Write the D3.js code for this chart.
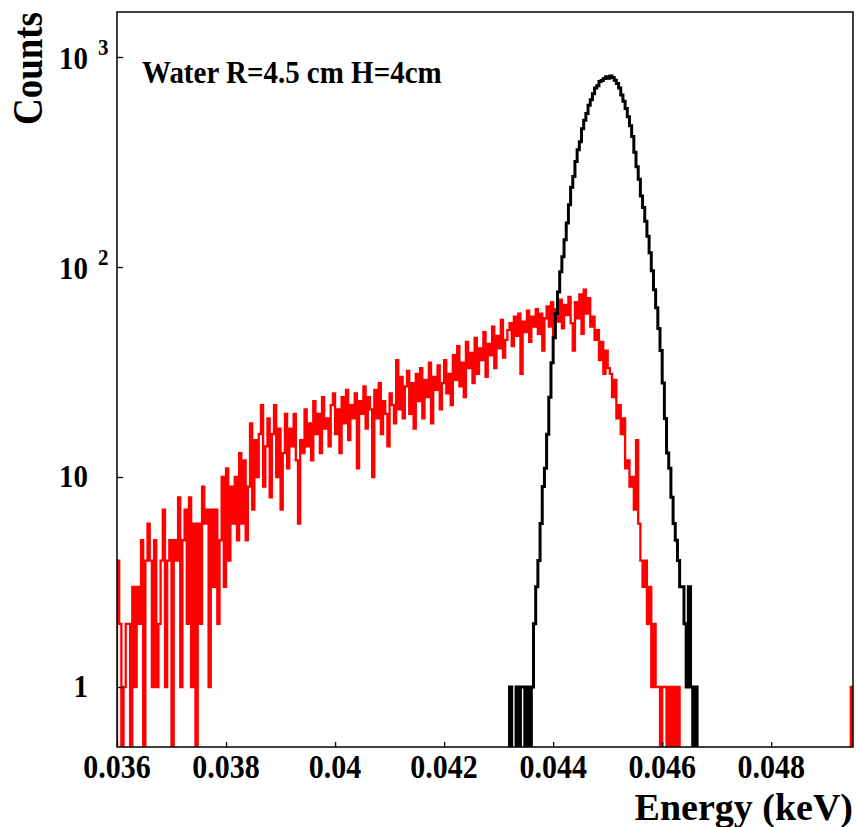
<!DOCTYPE html>
<html>
<head>
<meta charset="utf-8">
<script src="https://cdn.jsdelivr.net/npm/d3@7/dist/d3.min.js"></script>
<style>
body { margin: 0; background: #fff; }
text { font-family: "Liberation Serif", "Times New Roman", serif; font-weight: bold; }
</style>
</head>
<body>
<svg width="856" height="827"></svg>
<script>
// histogram data (counts per bin, bin width in keV)
var binWidth = 0.00004
var redStart = 0.036
var redCounts = [
  4,2,0,1,2,2,0,3,1,3, 2,5,0,4,6,4,1,5,1,2, 4,7,1,4,5,0,5,4,8,1, 5,7,2,8,1,6,0,6,2,9,
  6,7,1,7,3,7,2,5,10,3, 11,4,9,6,10,5,13,6,12,5, 9,18,7,15,10,16,22,9,14,19,
  8,16,22,10,17,7,13,20,11,17, 14,20,12,6,15,13,21,14,18,12, 23,16,20,13,24,17,19,14,22,25,
  16,21,13,24,18,26,15,22,19,25, 11,23,20,27,17,24,21,10,26,19, 28,16,23,20,14,25,22,18,36,21,
  30,19,27,32,20,28,17,31,23,33, 19,29,24,35,18,30,26,34,21,28, 36,25,31,22,38,29,42,27,35,24,
  44,33,39,28,46,31,41,36,49,30, 43,38,52,33,47,41,56,37,45,50, 54,42,58,47,60,31,55,49,62,44,
  58,52,63,48,60,40,57,65,52,68, 46,63,55,70,51,66,59,72,54,40, 68,57,74,48,78,60,71,52,58,45,
  50,36,44,31,40,33,31,24,29,19, 22,16,19,11,12,9,10,7,15,6, 4,3,4,2,3,1,2,1,1,0,
  1,1,0,1,0,1,0,1
]
var redEdgeEnergy = [0.04946]
var redEdgeCount = [1]

var blackStart = 0.0432
var blackCounts = [
  1,0,0,1,0,1,1,0,1,0, 1,2,3,4,6,9,11,16,24,35,
  46,60,76,95,112,135,162,198,240,270, 318,362,395,455,500,538,590,625,668,712,
  730,765,772,790,805,792,812,798,775,748, 712,660,615,568,520,470,418,352,300,262,
  218,192,165,140,117,96,78,64,51,40, 28,19,13,11,8,6,5,4,3,3,
  2,1,3,1,0,1
]

// axes
var xDomain = [0.036, 0.0495]
var yDomain = [0.518, 1638]
var xMajor = [0.036, 0.038, 0.04, 0.042, 0.044, 0.046, 0.048]
var xLabels = ["0.036", "0.038", "0.04", "0.042", "0.044", "0.046", "0.048"]
var yMajor = [1, 10, 100, 1000]
var yLabelBase = ["1", "10", "10", "10"]
var yLabelExp = ["", "", "2", "3"]

var svg = d3.select("svg")
var L = 117, R = 853, T = 12, B = 747

var x = d3.scaleLinear().domain(xDomain).range([L, R])
var y = d3.scaleLog().domain(yDomain).range([B, T])

svg.append("clipPath").attr("id", "clip")
  .append("rect").attr("x", L).attr("y", T).attr("width", R - L).attr("height", B - T)

function stepPath(start, counts) {
  var pts = [[x(start), B + 3]]
  counts.forEach((c, i) => {
    var yy = c > 0 ? y(c) : B + 3
    pts.push([x(start + i * binWidth), yy])
    pts.push([x(start + (i + 1) * binWidth), yy])
  })
  pts.push([x(start + counts.length * binWidth), B + 3])
  return d3.line()(pts)
}

var hist = svg.append("g").attr("clip-path", "url(#clip)")
hist.append("path")
  .attr("d", stepPath(redStart, redCounts))
  .attr("fill", "none").attr("stroke", "#ff0000").attr("stroke-width", 2.3)
redEdgeEnergy.forEach((e, i) => {
  hist.append("path")
    .attr("d", stepPath(e, [redEdgeCount[i]]))
    .attr("fill", "none").attr("stroke", "#ff0000").attr("stroke-width", 2.3)
})
hist.append("path")
  .attr("d", stepPath(blackStart, blackCounts))
  .attr("fill", "none").attr("stroke", "#000").attr("stroke-width", 3)

// ticks (inside the frame)
var gx = svg.append("g").attr("transform", "translate(0," + B + ")")
gx.call(d3.axisBottom(x).tickValues(x.ticks(27)).tickSize(-2.5).tickFormat(""))
gx.call(d3.axisBottom(x).tickValues(xMajor).tickSize(-5).tickFormat(""))
var gy = svg.append("g").attr("transform", "translate(" + L + ",0)")
gy.call(d3.axisLeft(y).tickValues(y.ticks()).tickSize(-3).tickFormat(""))
gy.call(d3.axisLeft(y).tickValues(yMajor).tickSize(-6).tickFormat(""))
svg.selectAll(".domain").remove()
svg.selectAll(".tick line").attr("stroke", "#000").attr("stroke-width", 1.3)

// frame
svg.append("rect")
  .attr("x", L).attr("y", T).attr("width", R - L).attr("height", B - T)
  .attr("fill", "none").attr("stroke", "#000").attr("stroke-width", 1.5)

// tick labels
xMajor.forEach((v, i) => {
  svg.append("text")
    .attr("transform", "translate(" + x(v) + ",778) scale(1,1.12)")
    .attr("text-anchor", "middle").attr("font-size", 30)
    .text(xLabels[i])
})
yMajor.forEach((v, i) => {
  svg.append("text")
    .attr("transform", "translate(88," + (y(v) + (yLabelExp[i] ? 12 : 10)) + ") scale(1,1.12)")
    .attr("text-anchor", "end").attr("font-size", 29)
    .text(yLabelBase[i])
  if (yLabelExp[i]) {
    svg.append("text")
      .attr("transform", "translate(98," + (y(v) - 2) + ") scale(1,1.12)")
      .attr("font-size", 21)
      .text(yLabelExp[i])
  }
})

// titles
svg.append("text")
  .attr("transform", "translate(42,12) rotate(-90) scale(1,1.12)")
  .attr("text-anchor", "end").attr("font-size", 37)
  .text("Counts")
svg.append("text")
  .attr("transform", "translate(853,820)")
  .attr("text-anchor", "end").attr("font-size", 38)
  .text("Energy (keV)")
svg.append("text")
  .attr("transform", "translate(142,83) scale(1,1.12)")
  .attr("font-size", 29)
  .text("Water R=4.5 cm H=4cm")
</script>
</body>
</html>
